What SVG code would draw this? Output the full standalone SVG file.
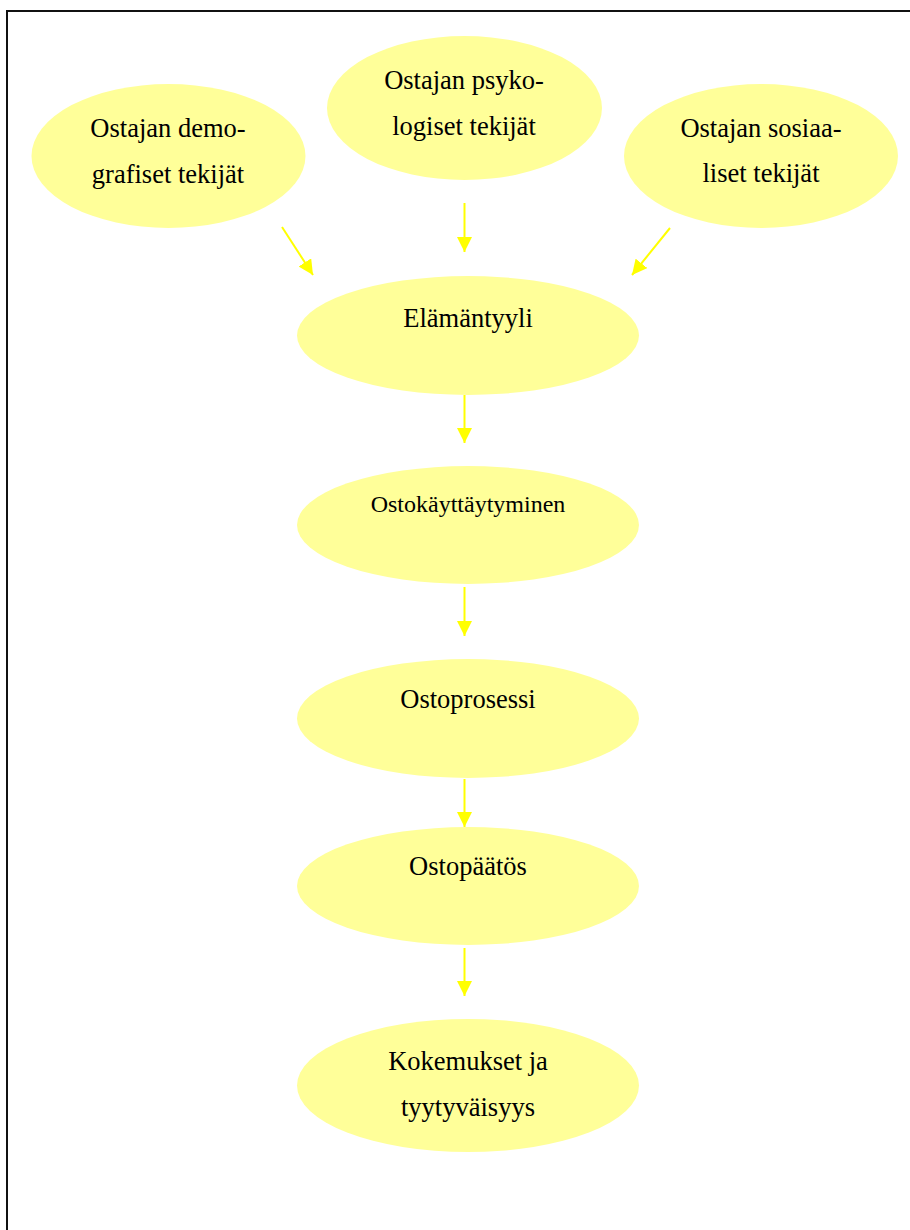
<svg xmlns="http://www.w3.org/2000/svg" width="910" height="1230" viewBox="0 0 910 1230">
<defs>
<style>
.node{fill:#FFFF99;stroke:none}
.t{font-family:"Liberation Serif","Times New Roman",serif;font-size:26.5px;fill:#000;text-anchor:middle}
.s{font-size:24px}
.c{stroke:#FFFF00;stroke-width:2;fill:none;marker-end:url(#ah)}
</style>
<marker id="ah" markerUnits="userSpaceOnUse" markerWidth="15" markerHeight="15" refX="15" refY="7.5" orient="auto" viewBox="0 0 15 15">
<path d="M0,0 L15,7.5 L0,15 z" fill="#FFFF00"/>
</marker>
</defs>
<rect width="910" height="1230" fill="#fff"/>
<g id="frame" stroke="#111" stroke-width="2" fill="none">
<path d="M7,1230 L7,11 L910,11"/>
</g>
<g id="n-demo">
<ellipse class="node" cx="168.5" cy="156" rx="137" ry="72"/>
<text class="t" x="168" y="137">Ostajan demo-</text>
<text class="t" x="168" y="183">grafiset tekijät</text>
</g>
<g id="n-psyko">
<ellipse class="node" cx="464.5" cy="108" rx="137.5" ry="72"/>
<text class="t" x="464" y="89">Ostajan psyko-</text>
<text class="t" x="464" y="135">logiset tekijät</text>
</g>
<g id="n-sosiaa">
<ellipse class="node" cx="761" cy="156" rx="137" ry="72"/>
<text class="t" x="761" y="137">Ostajan sosiaa-</text>
<text class="t" x="761" y="182">liset tekijät</text>
</g>
<g id="n-elamantyyli">
<ellipse class="node" cx="468" cy="335.5" rx="171" ry="59.5"/>
<text class="t" x="468" y="327">Elämäntyyli</text>
</g>
<g id="n-ostokayttaytyminen">
<ellipse class="node" cx="468" cy="525" rx="171" ry="59"/>
<text class="t s" x="468" y="512">Ostokäyttäytyminen</text>
</g>
<g id="n-ostoprosessi">
<ellipse class="node" cx="468" cy="718.5" rx="171" ry="59.5"/>
<text class="t" x="468" y="708">Ostoprosessi</text>
</g>
<g id="n-ostopaatos">
<ellipse class="node" cx="468" cy="886" rx="171" ry="59"/>
<text class="t" x="468" y="875">Ostopäätös</text>
</g>
<g id="n-kokemukset">
<ellipse class="node" cx="468" cy="1085.5" rx="171" ry="66.5"/>
<text class="t" x="468" y="1070">Kokemukset ja</text>
<text class="t" x="468" y="1116">tyytyväisyys</text>
</g>
<g id="connectors">
<line class="c" x1="282" y1="227" x2="313" y2="275"/>
<line class="c" x1="464.5" y1="203" x2="464.5" y2="252"/>
<line class="c" x1="670" y1="228" x2="632" y2="275"/>
<line class="c" x1="464.5" y1="395" x2="464.5" y2="443"/>
<line class="c" x1="464.5" y1="587" x2="464.5" y2="636"/>
<line class="c" x1="464.5" y1="779" x2="464.5" y2="827"/>
<line class="c" x1="464.5" y1="948" x2="464.5" y2="996"/>
</g>
</svg>
